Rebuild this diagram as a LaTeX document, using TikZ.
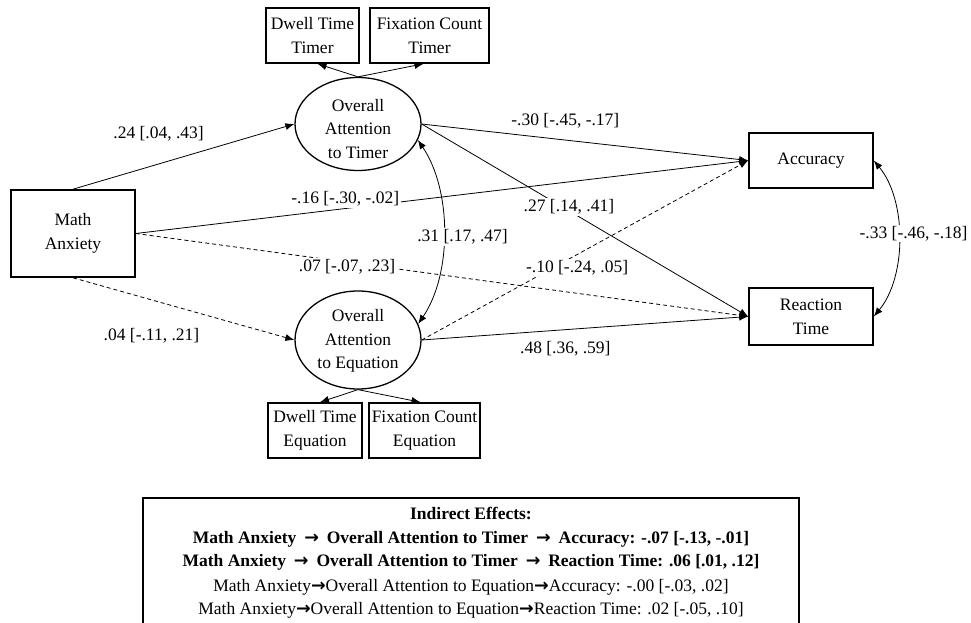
\documentclass[tikz,border=0pt]{standalone}
\usepackage{fontspec}
\setmainfont{Liberation Serif}
\newfontfamily\arrowfont{DejaVu Sans}
\newcommand{\rarr}{{\arrowfont\bfseries →}}
\newcommand{\brarr}{\hspace{3.5pt}{\arrowfont\bfseries →}\hspace{3.5pt}}
\usetikzlibrary{shapes.geometric,arrows.meta}
\begin{document}
\begin{tikzpicture}[x=1pt,y=-1pt,
  font=\fontsize{17.5}{24}\selectfont,
  box/.style={draw, line width=1.6pt, inner sep=0pt, align=center},
  lat/.style={draw, ellipse, line width=1.3pt, inner sep=0pt, align=center},
  reg/.style={line width=0.8pt, -{Latex[length=9pt,width=7pt]}},
  ns/.style={reg, dash pattern=on 4pt off 3pt},
  cov/.style={line width=0.8pt, {Latex[length=9pt,width=7pt]}-{Latex[length=9pt,width=7pt]}},
  lbl/.style={fill=white, inner sep=1.5pt},
  ie/.style={anchor=base, inner sep=0pt}]
\clip (0,0) rectangle (971,623);
% observed nodes
\node[box, minimum width=124pt, minimum height=87pt] (ma) at (73,233.5) {Math\\Anxiety};
\node[box, minimum width=124pt, minimum height=55pt] (acc) at (811,160.5) {Accuracy};
\node[box, minimum width=124pt, minimum height=57pt] (rt) at (811,316.5) {Reaction\\Time};
\node[box, minimum width=93pt, minimum height=55pt] (dwt) at (312.5,35.5) {Dwell Time\\Timer};
\node[box, minimum width=119pt, minimum height=55pt] (fct) at (429.5,35.5) {Fixation Count\\Timer};
\node[box, minimum width=94pt, minimum height=55pt] (dwe) at (315,430.5) {Dwell Time\\Equation};
\node[box, minimum width=111pt, minimum height=55pt] (fce) at (424.5,430.5) {Fixation Count\\Equation};
% latent
\node[lat, minimum width=126pt, minimum height=93pt] (tim) at (358,124) {};
\node[align=center, inner sep=0pt, font=\fontsize{17.5}{23.5}\selectfont] (timtxt) at (358,129) {Overall\\Attention\\to Timer};
\node[lat, minimum width=126pt, minimum height=98pt] (equ) at (358,340) {};
\node[align=center, inner sep=0pt, font=\fontsize{17.5}{23.5}\selectfont] (equtxt) at (358,341) {Overall\\Attention\\to Equation};
% indicators
\draw[reg] (tim.north) -- ([xshift=5pt]dwt.south);
\draw[reg] (tim.north) -- ([xshift=-6pt]fct.south);
\draw[reg] (equ.south) -- ([xshift=5pt]dwe.north);
\draw[reg] (equ.south) -- ([xshift=-4pt]fce.north);
% structural paths
\draw[reg] (ma.north) -- node[lbl, pos=0.38, xshift=1.5pt, yshift=31pt] {.24 [.04, .43]} (tim.west);
\draw[reg] (ma.east) -- node[lbl, pos=0.342, yshift=9.5pt] {-.16 [-.30, -.02]} (acc.west);
\draw[ns] (ma.east) -- node[lbl, pos=0.345, yshift=-5pt] {.07 [-.07, .23]} (rt.west);
\draw[ns] (ma.south) -- node[lbl, pos=0.35, xshift=1pt, yshift=-36pt] {.04 [-.11, .21]} (equ.west);
\draw[reg] (tim.east) -- node[lbl, pos=0.44, yshift=19pt] {-.30 [-.45, -.17]} (acc.west);
\draw[reg] (tim.east) -- node[lbl, pos=0.451, yshift=4pt] {.27 [.14, .41]} (rt.west);
\draw[ns] (equ.east) -- node[lbl, pos=0.476, yshift=-13pt] {-.10 [-.24, .05]} (acc.west);
\draw[reg] (equ.east) -- node[lbl, pos=0.44, yshift=-19pt] {.48 [.36, .59]} (rt.west);
% covariances
\draw[cov] (tim.-15) .. controls +(34,50) and +(34,-50) .. node[lbl, pos=0.5, xshift=19pt, yshift=-5pt] {.31 [.17, .47]} (equ.15);
\draw[cov] (acc.east) .. controls +(33,40) and +(33,-40) .. node[lbl, pos=0.5, xshift=15pt, yshift=5pt] {-.33 [-.46, -.18]} (rt.east);
% indirect effects box
\draw[line width=1.6pt] (143,640) |- (799,498) -- (799,640);
\node[ie, font=\fontsize{17.5}{24}\selectfont\bfseries] (ie1) at (471,519) {Indirect Effects:};
\node[ie, font=\fontsize{17.5}{24}\selectfont\bfseries] (ie2) at (471,543) {Math Anxiety \brarr{} Overall Attention to Timer \brarr{} Accuracy: -.07 [-.13, -.01]};
\node[ie, font=\fontsize{17.5}{24}\selectfont\bfseries] (ie3) at (471,566) {Math Anxiety \brarr{} Overall Attention to Timer \brarr{} Reaction Time: .06 [.01, .12]};
\node[ie] (ie4) at (471,591) {Math Anxiety\rarr{}Overall Attention to Equation\rarr{}Accuracy: -.00 [-.03, .02]};
\node[ie] (ie5) at (471,614) {Math Anxiety\rarr{}Overall Attention to Equation\rarr{}Reaction Time: .02 [-.05, .10]};
\end{tikzpicture}
\end{document}
